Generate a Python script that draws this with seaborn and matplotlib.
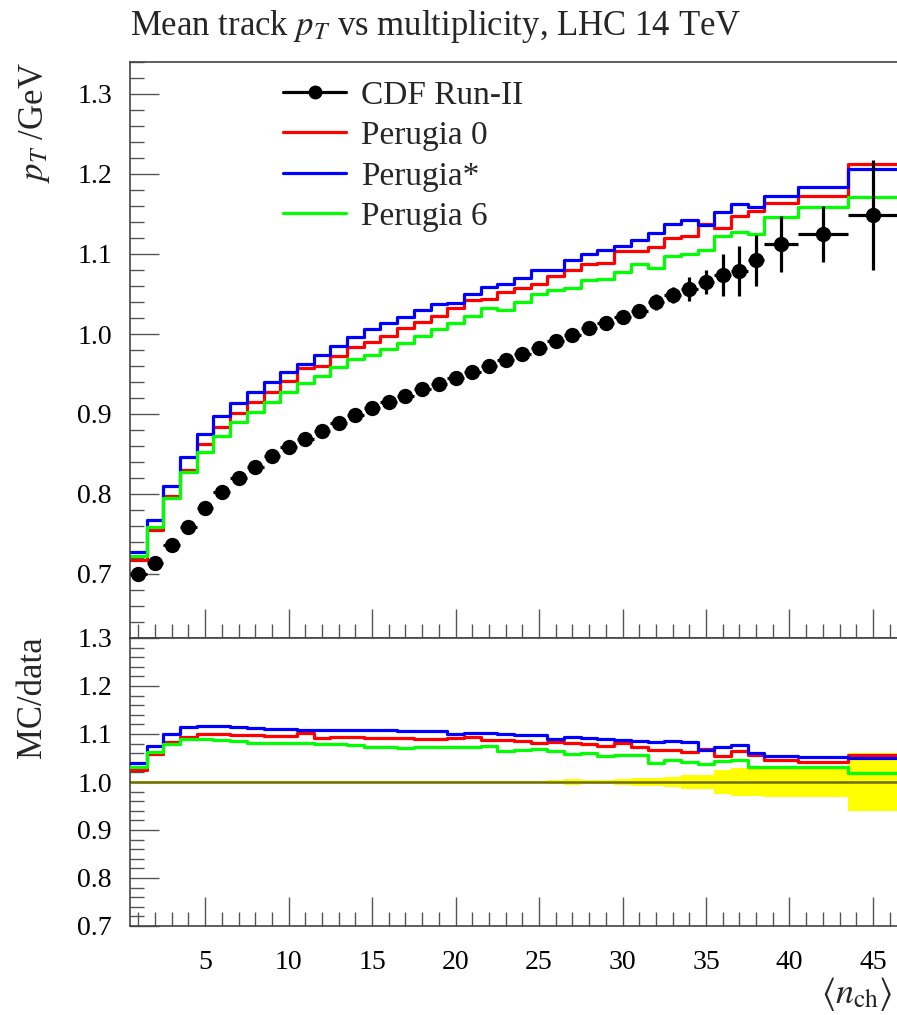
import numpy as np
import pandas as pd
import matplotlib
matplotlib.use('Agg')
import matplotlib.pyplot as plt
import seaborn as sns
from matplotlib.lines import Line2D
from matplotlib.ticker import MultipleLocator, FormatStrFormatter

sns.set_theme(style='ticks')
plt.rcParams['font.family'] = ['Liberation Serif', 'DejaVu Serif']
plt.rcParams['mathtext.fontset'] = 'stix'

# binning (n_ch)
edges = [0.5, 1.5, 2.5, 3.5, 4.5, 5.5, 6.5, 7.5, 8.5, 9.5, 10.5, 11.5, 12.5, 13.5,
         14.5, 15.5, 16.5, 17.5, 18.5, 19.5, 20.5, 21.5, 22.5, 23.5, 24.5, 25.5,
         26.5, 27.5, 28.5, 29.5, 30.5, 31.5, 32.5, 33.5, 34.5, 35.5, 36.5, 37.5,
         38.5, 40.5, 43.5, 46.5]

# CDF Run-II data
cdf = [0.700, 0.714, 0.736, 0.759, 0.783, 0.803, 0.820, 0.834, 0.847, 0.859,
       0.869, 0.879, 0.889, 0.899, 0.907, 0.915, 0.923, 0.931, 0.938, 0.945,
       0.952, 0.960, 0.967, 0.975, 0.983, 0.991, 0.999, 1.007, 1.014, 1.021,
       1.029, 1.040, 1.049, 1.056, 1.065, 1.074, 1.079, 1.092, 1.112, 1.125, 1.149]
cdf_err = [0.001, 0.001, 0.001, 0.001, 0.001, 0.001, 0.001, 0.001, 0.001, 0.001,
           0.001, 0.001, 0.001, 0.002, 0.002, 0.002, 0.002, 0.002, 0.002, 0.002,
           0.002, 0.002, 0.003, 0.003, 0.003, 0.004, 0.0055, 0.0045, 0.005, 0.006,
           0.008, 0.0095, 0.010, 0.015, 0.0155, 0.026, 0.031, 0.032, 0.035, 0.035, 0.069]

# MC predictions
perugia0 = [0.717, 0.755, 0.797, 0.830, 0.862, 0.884, 0.901, 0.915, 0.928, 0.941,
            0.957, 0.960, 0.973, 0.984, 0.990, 0.998, 1.007, 1.015, 1.022, 1.032,
            1.042, 1.044, 1.052, 1.058, 1.063, 1.073, 1.080, 1.087, 1.089, 1.104,
            1.104, 1.109, 1.120, 1.123, 1.138, 1.132, 1.148, 1.154, 1.164, 1.172, 1.213]
perugia_star = [0.728, 0.767, 0.810, 0.846, 0.875, 0.897, 0.914, 0.928, 0.940, 0.953,
                0.963, 0.974, 0.985, 0.996, 1.006, 1.014, 1.021, 1.030, 1.037, 1.039,
                1.050, 1.059, 1.063, 1.070, 1.080, 1.080, 1.093, 1.100, 1.105, 1.110,
                1.117, 1.126, 1.138, 1.143, 1.136, 1.153, 1.162, 1.159, 1.172, 1.184, 1.206]
perugia6 = [0.722, 0.759, 0.795, 0.827, 0.853, 0.873, 0.890, 0.902, 0.915, 0.928,
            0.939, 0.948, 0.959, 0.969, 0.974, 0.981, 0.989, 0.998, 1.006, 1.014,
            1.022, 1.032, 1.030, 1.040, 1.050, 1.055, 1.057, 1.068, 1.069, 1.078,
            1.087, 1.082, 1.098, 1.100, 1.105, 1.122, 1.128, 1.125, 1.146, 1.159, 1.171]

gens = ['Perugia 0', 'Perugia*', 'Perugia 6']
colors = {'Perugia 0': '#ff0000', 'Perugia*': '#0000ff', 'Perugia 6': '#00ff00'}
mc = {'Perugia 0': perugia0, 'Perugia*': perugia_star, 'Perugia 6': perugia6}

e = np.array(edges)
centers = (e[:-1] + e[1:]) / 2
halfw = (e[1:] - e[:-1]) / 2
data = np.array(cdf)
derr = np.array(cdf_err)

# long tables for seaborn step lines
rows, rrows = [], []
for g in gens:
    v = np.array(mc[g])
    vv = np.append(v, v[-1])
    rr = np.append(v / data, (v / data)[-1])
    for xi, yi, ri in zip(e, vv, rr):
        rows.append({'x': xi, 'y': yi, 'gen': g})
        rrows.append({'x': xi, 'y': ri, 'gen': g})
df = pd.DataFrame(rows)
rdf = pd.DataFrame(rrows)

W, H = 897, 1015
fig = plt.figure(figsize=(W / 100, H / 100), dpi=100)
ax = fig.add_axes([130 / W, 1 - 638 / H, 768 / W, 576 / H])
rax = fig.add_axes([130 / W, 1 - 926 / H, 768 / W, 288 / H])

# main panel
sns.lineplot(data=df, x='x', y='y', hue='gen', palette=colors, hue_order=gens,
             drawstyle='steps-post', linewidth=2.3, estimator=None, sort=False,
             legend=False, ax=ax)
ax.errorbar(centers, data, yerr=derr, xerr=halfw, fmt='o', color='black',
            ms=10, elinewidth=2.3, capsize=0, zorder=5)
ax.set_xlim(0.5, 46.5)
ax.set_ylim(0.62, 1.34)

# ratio panel
lo = np.append(1 - derr / data, (1 - derr / data)[-1])
hi = np.append(1 + derr / data, (1 + derr / data)[-1])
rax.fill_between(e, lo, hi, step='post', color='#ffff00', lw=0, zorder=1)
rax.axhline(1.0, color='#6e6e00', lw=1.8, zorder=2)
sns.lineplot(data=rdf, x='x', y='y', hue='gen', palette=colors, hue_order=gens,
             drawstyle='steps-post', linewidth=2.3, estimator=None, sort=False,
             legend=False, ax=rax, zorder=3)
rax.set_xlim(0.5, 46.5)
rax.set_ylim(0.7, 1.3)

for a in (ax, rax):
    a.set_xlabel('')
    a.set_ylabel('')
    a.xaxis.set_major_locator(MultipleLocator(5))
    a.xaxis.set_minor_locator(MultipleLocator(1))
    a.yaxis.set_major_locator(MultipleLocator(0.1))
    a.yaxis.set_minor_locator(MultipleLocator(0.02))
    a.yaxis.set_major_formatter(FormatStrFormatter('%.1f'))
    a.tick_params(which='both', direction='in', top=False, right=False,
                  color='#555555', width=1.0, labelsize=20, labelcolor='black')
    a.tick_params(which='major', length=21)
    a.tick_params(which='minor', length=10)
    a.tick_params(axis='y', pad=13)
    a.tick_params(axis='x', pad=17)
    a.spines['right'].set_visible(False)
    for s in ('left', 'top', 'bottom'):
        a.spines[s].set_color('#444444')
        a.spines[s].set_linewidth(1.2)
ax.tick_params(labelbottom=False)

# legend
handles = [Line2D([], [], color='black', marker='o', ms=9, lw=2.3)]
handles += [Line2D([], [], color=colors[g], lw=2.3) for g in gens]
ax.legend(handles, ['CDF Run-II'] + gens, loc='upper left',
          bbox_to_anchor=((283 - 130) / 768, (638 - 80) / 576), frameon=False,
          fontsize=24, handlelength=1.9, handletextpad=0.45, labelspacing=0.3,
          borderpad=0, borderaxespad=0)

# texts
fig.text(130 / W, 1 - 35 / H, 'Mean track $p_T$ vs multiplicity, LHC 14 TeV',
         fontsize=25, ha='left', va='baseline')
fig.text(34 / W, 1 - 62 / H, '$p_T$ /GeV', fontsize=25, rotation=90,
         ha='center', va='top')
fig.text(32 / W, 1 - 636 / H, 'MC/data', fontsize=25, rotation=90,
         ha='center', va='top')
fig.text(893 / W, 1 - 1003 / H, r'$\langle n_{\mathrm{ch}}\rangle$',
         fontsize=26, ha='right', va='baseline')

fig.savefig('out.png', dpi=100)
